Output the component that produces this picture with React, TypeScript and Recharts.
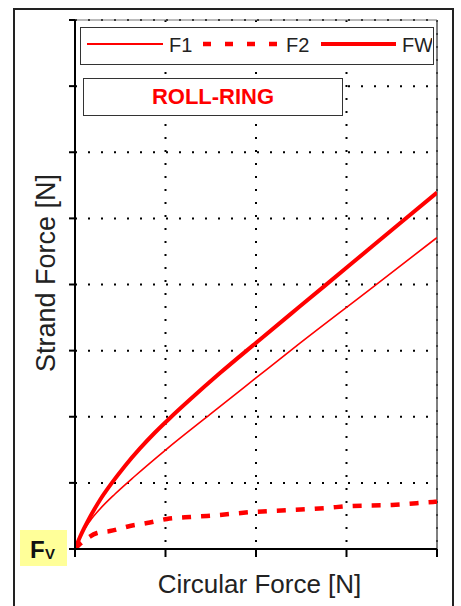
import React from 'react';
import { LineChart, Line, XAxis, YAxis, CartesianGrid, Legend, ReferenceLine, Label } from 'recharts';

const xTicks = [0, 1, 2, 3, 4];
const yTicks = [0, 1, 2, 3, 4, 5, 6, 7, 8];

const f1X = [0, 0.055, 0.166, 0.276, 0.442, 0.663, 1.006, 1.492, 1.989, 2.486, 3.26, 4.0];
const f1Y = [0, 0.182, 0.424, 0.605, 0.832, 1.104, 1.504, 2.036, 2.575, 3.113, 3.927, 4.71];

const f2X = [0, 0.05, 0.11, 0.243, 0.387, 0.608, 0.796, 1.017, 1.271, 1.459, 1.967, 2.398, 2.773, 3.039, 3.503, 3.956, 4.0];
const f2Y = [0, 0.07, 0.136, 0.242, 0.272, 0.348, 0.393, 0.454, 0.484, 0.499, 0.56, 0.59, 0.62, 0.65, 0.666, 0.711, 0.715];

const fwX = [0, 0.055, 0.166, 0.276, 0.387, 0.552, 0.718, 0.884, 1.05, 1.271, 1.602, 2.022, 2.486, 3.039, 3.591, 4.0];
const fwY = [0, 0.182, 0.484, 0.741, 0.961, 1.256, 1.521, 1.762, 1.982, 2.26, 2.66, 3.142, 3.67, 4.298, 4.926, 5.39];

const seriesNames = ['F1', 'F2', 'FW'];
const boxTitle = 'ROLL-RING';
const xTitle = 'Circular Force [N]';
const yTitle = 'Strand Force [N]';

const toPoints = (xs: number[], ys: number[]) => xs.map((x, i) => ({ x, y: ys[i] }));
const f1Data = toPoints(f1X, f1Y);
const f2Data = toPoints(f2X, f2Y);
const fwData = toPoints(fwX, fwY);

const FONT = '"Liberation Sans", Arial, Helvetica, sans-serif';
const RED = '#ff0000';
const TEXT = '#222';

const renderLegend = () => (
  <div
    style={{
      width: 354,
      height: 38,
      boxSizing: 'border-box',
      border: '1.5px solid #333',
      background: '#fff',
    }}
  >
    <svg width={351} height={35} style={{ display: 'block' }}>
      <line x1={6} x2={82} y1={16} y2={16} stroke={RED} strokeWidth={1.8} />
      <text x={88} y={23.5} fontFamily={FONT} fontSize={20} fill={TEXT}>{seriesNames[0]}</text>
      <line x1={122} x2={197} y1={16} y2={16} stroke={RED} strokeWidth={4.5} strokeDasharray="8 14" />
      <text x={205} y={23.5} fontFamily={FONT} fontSize={20} fill={TEXT}>{seriesNames[1]}</text>
      <line x1={240} x2={315} y1={16} y2={16} stroke={RED} strokeWidth={4} />
      <text x={321} y={23.5} fontFamily={FONT} fontSize={20} fill={TEXT}>{seriesNames[2]}</text>
    </svg>
  </div>
);

const XTitle = () => (
  <text x={259.5} y={593} textAnchor="middle" fontFamily={FONT} fontSize={26} fill={TEXT}>
    {xTitle}
  </text>
);

const YTitle = () => (
  <text
    x={55}
    y={273}
    transform="rotate(-90 55 273)"
    textAnchor="middle"
    fontFamily={FONT}
    fontSize={27}
    fill={TEXT}
  >
    {yTitle}
  </text>
);

const noLabel = () => '';

export default function App() {
  return (
    <div style={{ position: 'absolute', left: 0, top: 0, width: 461, height: 606, background: '#fff', overflow: 'hidden' }}>
      <LineChart width={461} height={606} margin={{ top: 20, right: 24, bottom: 0, left: 0 }}>
        <CartesianGrid stroke="#000" strokeWidth={2} strokeDasharray="2 11" />
        <ReferenceLine y={8} stroke="#777" strokeWidth={1} />
        <ReferenceLine x={4} stroke="#555" strokeWidth={1.5} />
        <XAxis
          type="number"
          dataKey="x"
          domain={[0, 4]}
          ticks={xTicks}
          interval={0}
          allowDataOverflow
          height={57}
          tickFormatter={noLabel}
          tickSize={8}
          tickLine={{ stroke: '#000', strokeWidth: 2 }}
          axisLine={{ stroke: '#000', strokeWidth: 2 }}
        >
          <Label content={<XTitle />} />
        </XAxis>
        <YAxis
          type="number"
          dataKey="y"
          domain={[0, 8]}
          ticks={yTicks}
          interval={0}
          allowDataOverflow
          width={75}
          tickFormatter={noLabel}
          tickSize={6}
          tickLine={{ stroke: '#000', strokeWidth: 2 }}
          axisLine={{ stroke: '#000', strokeWidth: 2 }}
        >
          <Label content={<YTitle />} />
        </YAxis>
        <Legend
          content={renderLegend}
          layout="vertical"
          align="center"
          verticalAlign="middle"
          wrapperStyle={{ position: 'absolute', left: 80, top: 27, width: 354, height: 38 }}
        />
        <Line data={f2Data} dataKey="y" name={seriesNames[1]} type="monotone" stroke={RED} strokeWidth={4.5} strokeDasharray="9 10" dot={false} isAnimationActive={false} />
        <Line data={f1Data} dataKey="y" name={seriesNames[0]} type="monotone" stroke={RED} strokeWidth={1.6} dot={false} isAnimationActive={false} />
        <Line data={fwData} dataKey="y" name={seriesNames[2]} type="monotone" stroke={RED} strokeWidth={4} dot={false} isAnimationActive={false} />
      </LineChart>
      <div
        style={{
          position: 'absolute',
          left: 83,
          top: 78,
          width: 260,
          height: 38,
          boxSizing: 'border-box',
          border: '1.5px solid #333',
          background: '#fff',
          display: 'flex',
          alignItems: 'center',
          justifyContent: 'center',
          fontFamily: FONT,
          fontWeight: 'bold',
          fontSize: 22,
          color: RED,
        }}
      >
        {boxTitle}
      </div>
      <div
        style={{
          position: 'absolute',
          left: 20,
          top: 530,
          width: 47,
          height: 36,
          background: '#ffff99',
          fontFamily: FONT,
          fontWeight: 'bold',
          color: '#111',
        }}
      >
        <span style={{ position: 'absolute', left: 10, top: 6, fontSize: 24, lineHeight: '28px' }}>F</span>
        <span style={{ position: 'absolute', left: 25, top: 15, fontSize: 15, lineHeight: '18px' }}>V</span>
      </div>
      <div
        style={{
          position: 'absolute',
          left: 13,
          top: 8,
          width: 441,
          height: 598,
          boxSizing: 'border-box',
          borderTop: '2px solid #222',
          borderLeft: '2px solid #222',
          borderRight: '2px solid #222',
          pointerEvents: 'none',
        }}
      />
    </div>
  );
}
